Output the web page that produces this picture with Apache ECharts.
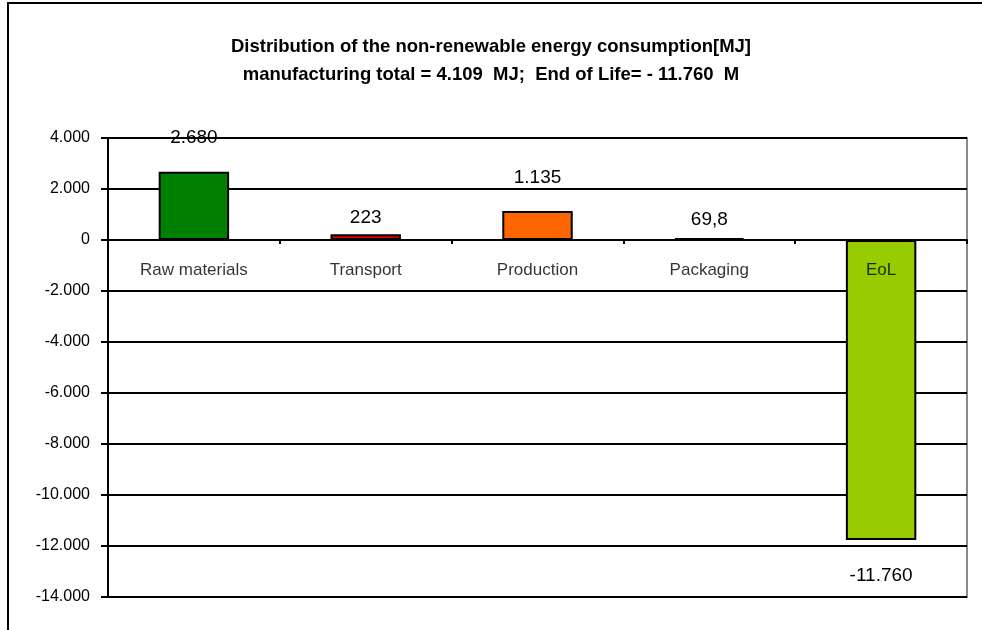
<!DOCTYPE html>
<html>
<head>
    <meta charset="UTF-8">
    <title>Non-renewable energy consumption</title>
    <script src="https://cdn.jsdelivr.net/npm/echarts@6/dist/echarts.min.js"></script>
</head>
<style>
    body { margin: 0; padding: 0; background: #fff; }
    #main { width: 982px; height: 630px; }
</style>
<body>
<div id="main"></div>
<script type="text/javascript">
    // data
    var categories = ['Raw materials', 'Transport', 'Production', 'Packaging', 'EoL'];
    var values = [2680, 223, 1135, 69.8, -11760];
    var barColors = ['#008000', '#e00000', '#ff6600', '#000000', '#99cc00'];
    var labelGap = [24, 7, 24, 9, 26];
    var yMin = -14000, yMax = 4000, yStep = 2000;

    // european number format: 1.234 and 69,8
    function fmt(v) {
        var neg = v < 0;
        var a = Math.abs(v);
        var parts = String(a).split('.');
        var intPart = parts[0].replace(/\B(?=(\d{3})+(?!\d))/g, '.');
        var s = intPart + (parts[1] ? ',' + parts[1] : '');
        return (neg ? '-' : '') + s;
    }

    var data = [];
    var zeroPts = [];
    for (var i = 0; i < values.length; i++) {
        data.push({
            value: values[i],
            itemStyle: { color: barColors[i] },
            label: { position: values[i] < 0 ? 'bottom' : 'top', distance: labelGap[i] }
        });
        zeroPts.push([categories[i], 0]);  // category names sit on the zero line
    }

    var myChart = echarts.init(document.getElementById('main'));
    var option = {
        animation: false,
        textStyle: { fontFamily: 'Liberation Sans, Arial, sans-serif' },
        title: {
            text: 'Distribution of the non-renewable energy consumption[MJ]\nmanufacturing total = 4.109  MJ;  End of Life= - 11.760  M',
            left: 'center',
            top: 28,
            textStyle: { fontSize: 18.5, fontWeight: 'bold', color: '#000', lineHeight: 28, fontFamily: 'Liberation Sans, Arial, sans-serif' }
        },
        graphic: [{
            type: 'rect',
            shape: { x: 8, y: 3, width: 1000, height: 700 },
            style: { fill: 'none', stroke: '#000', lineWidth: 2 },
            silent: true
        }],
        grid: {
            left: 108, right: 15, top: 138, bottom: 33,
            show: true, borderColor: '#8a8a8a', borderWidth: 2, backgroundColor: '#fff'
        },
        xAxis: {
            type: 'category',
            data: categories,
            axisLine: { onZero: true, lineStyle: { color: '#000', width: 2 } },
            axisTick: { show: true, length: 4, lineStyle: { color: '#000', width: 2 } },
            axisLabel: { show: false }
        },
        yAxis: {
            type: 'value',
            min: yMin, max: yMax, interval: yStep,
            axisLine: { show: true, lineStyle: { color: '#000', width: 2 } },
            axisTick: { show: true, length: 7, lineStyle: { color: '#000', width: 2 } },
            axisLabel: { fontSize: 16, color: '#000', margin: 18, formatter: fmt },
            splitLine: { lineStyle: { color: '#000', width: 2 } }
        },
        series: [{
            type: 'bar',
            data: data,
            barWidth: '41%',
            itemStyle: { borderColor: '#000', borderWidth: 2 },
            label: {
                show: true, fontSize: 19, color: '#000',
                formatter: function (p) { return fmt(p.value); }
            }
        }, {
            type: 'scatter',
            data: zeroPts,
            symbolSize: 0,
            silent: true,
            z: 10,
            label: {
                show: true, position: 'bottom', distance: 22,
                fontSize: 17, color: '#000',
                formatter: function (p) { return p.value[0]; }
            }
        }]
    };
    myChart.setOption(option);
</script>
</body>
</html>
